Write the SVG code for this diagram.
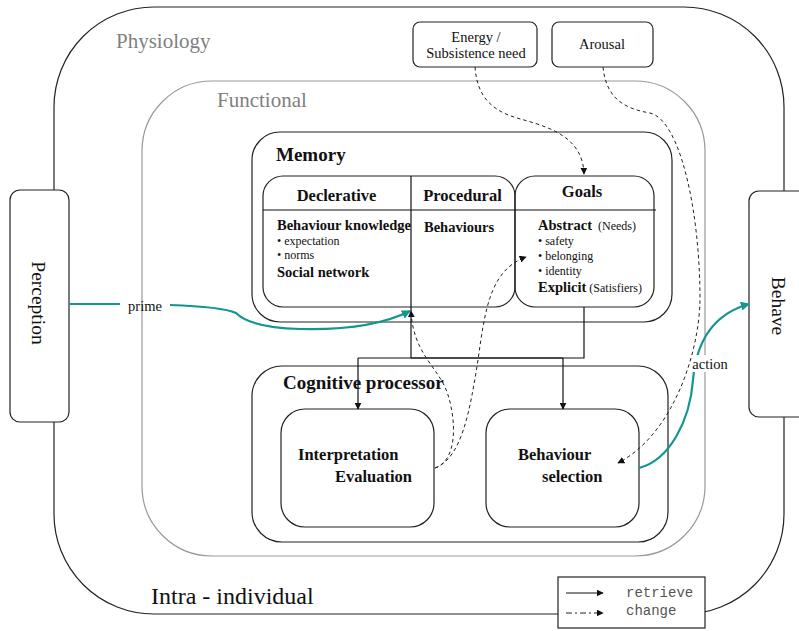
<svg xmlns="http://www.w3.org/2000/svg" width="799" height="631" viewBox="0 0 799 631">
  <style>
    .box { fill: none; stroke: #222; stroke-width: 1.2; }
    .wbox { fill: #fff; stroke: #222; stroke-width: 1.2; }
    .gray { fill: none; stroke: #999; stroke-width: 1.2; }
    .ser { font-family: "Liberation Serif", "Times New Roman", serif; fill: #111; }
    .b { font-weight: bold; }
    .lbl { font-family: "Liberation Serif", "Times New Roman", serif; fill: #808080; font-size: 21px; }
    .solid { fill: none; stroke: #111; stroke-width: 1.2; }
    .dash { fill: none; stroke: #222; stroke-width: 1; stroke-dasharray: 3.5 3; }
    .teal { fill: none; stroke: #13968f; stroke-width: 2.2; }
    .mono { font-family: "Liberation Mono", "Courier New", monospace; font-size: 14px; fill: #555; }
    .h2 { font-size: 16.5px; }
    .h3 { font-size: 14.5px; }
    .sm { font-size: 12px; }
  </style>
  <defs>
    <marker id="ah" viewBox="0 0 10 10" refX="9" refY="5" markerWidth="7" markerHeight="7" orient="auto" markerUnits="userSpaceOnUse">
      <path d="M0,0 L10,5 L0,10 z" fill="#111"/>
    </marker>
    <marker id="aht" viewBox="0 0 10 10" refX="9" refY="5" markerWidth="9" markerHeight="9" orient="auto" markerUnits="userSpaceOnUse">
      <path d="M0,0 L10,5 L0,10 z" fill="#13968f"/>
    </marker>
  </defs>

  <rect width="799" height="631" fill="#fff"/>

  <!-- nested regions -->
  <g id="physiology">
    <rect class="box" x="54" y="7" width="730" height="607" rx="100" ry="100"/>
    <text class="lbl" x="116" y="48">Physiology</text>
    <text class="ser" x="151" y="604" font-size="24">Intra - individual</text>
  </g>
  <g id="functional">
    <rect class="gray" x="142" y="81" width="563" height="475" rx="70" ry="70"/>
    <text class="lbl" x="217" y="107">Functional</text>
  </g>

  <g id="memory">
    <rect class="box" x="252" y="132" width="420" height="190" rx="28" ry="28"/>
    <text class="ser b" x="276" y="161" font-size="19">Memory</text>
  </g>

  <g id="decl-proc">
    <rect class="box" x="263" y="176" width="252" height="131" rx="20" ry="20"/>
    <text class="ser b h2" x="336.5" y="201" text-anchor="middle">Declerative</text>
    <text class="ser b h2" x="462.5" y="201" text-anchor="middle">Procedural</text>
    <text class="ser b h3" x="277" y="230">Behaviour knowledge</text>
    <text class="ser sm" x="277" y="245">• expectation</text>
    <text class="ser sm" x="277" y="259">• norms</text>
    <text class="ser b h3" x="277" y="277">Social network</text>
    <text class="ser b h3" x="424" y="232">Behaviours</text>
  </g>

  <g id="goals">
    <rect class="box" x="515" y="176" width="139" height="131" rx="20" ry="20" stroke-width="1.6"/>
    <text class="ser b h2" x="582" y="197" text-anchor="middle">Goals</text>
    <text class="ser" x="538" y="230"><tspan class="b h3">Abstract</tspan><tspan class="sm" dx="6">(Needs)</tspan></text>
    <text class="ser sm" x="538" y="245">• safety</text>
    <text class="ser sm" x="538" y="260">• belonging</text>
    <text class="ser sm" x="538" y="275">• identity</text>
    <text class="ser" x="538" y="292"><tspan class="b h3">Explicit</tspan><tspan class="sm" dx="3">(Satisfiers)</tspan></text>
  </g>

  <!-- shared divider lines of the memory compartments -->
  <g id="dividers">
    <line class="solid" x1="263" y1="210" x2="656" y2="210"/>
    <line class="solid" x1="411" y1="176" x2="411" y2="358"/>
  </g>

  <g id="cognitive">
    <rect class="box" x="252" y="366" width="416" height="176" rx="30" ry="30"/>
    <text class="ser b" x="283" y="389" font-size="19">Cognitive processor</text>
  </g>
  <g id="interpretation">
    <rect class="box" x="281" y="409" width="153" height="118" rx="24" ry="24"/>
    <text class="ser b" x="298" y="460" font-size="16.5">Interpretation</text>
    <text class="ser b" x="335" y="482" font-size="16.5">Evaluation</text>
  </g>
  <g id="selection">
    <rect class="box" x="486" y="409" width="153" height="118" rx="24" ry="24"/>
    <text class="ser b" x="518" y="460" font-size="16.5">Behaviour</text>
    <text class="ser b" x="542" y="482" font-size="16.5">selection</text>
  </g>

  <g id="energy">
    <rect class="wbox" x="413" y="22" width="124" height="45" rx="7" ry="7"/>
    <text class="ser" x="476" y="42" font-size="14.5" text-anchor="middle">Energy /</text>
    <text class="ser" x="476" y="58" font-size="14.5" text-anchor="middle">Subsistence need</text>
  </g>
  <g id="arousal">
    <rect class="wbox" x="552" y="22" width="101" height="45" rx="7" ry="7"/>
    <text class="ser" x="602" y="49" font-size="14.5" text-anchor="middle">Arousal</text>
  </g>

  <g id="perception">
    <rect class="wbox" x="10" y="190" width="59" height="232" rx="10" ry="10"/>
    <text class="ser" x="0" y="0" font-size="19.5" text-anchor="middle" transform="translate(32,303) rotate(90)">Perception</text>
  </g>
  <g id="behave">
    <rect class="wbox" x="749" y="191" width="70" height="226" rx="10" ry="10"/>
    <text class="ser" x="0" y="0" font-size="19.5" text-anchor="middle" transform="translate(772,306) rotate(90)">Behave</text>
  </g>

  <g id="legend">
    <rect class="wbox" x="558" y="577" width="147" height="51"/>
    <line class="solid" x1="566" y1="593" x2="603" y2="593" marker-end="url(#ah)"/>
    <line x1="566" y1="613" x2="603" y2="613" fill="none" stroke="#222" stroke-width="1" stroke-dasharray="6 3 2 3" marker-end="url(#ah)"/>
    <text class="mono" x="626" y="597">retrieve</text>
    <text class="mono" x="626" y="615">change</text>
  </g>

  <!-- connectors -->
  <g id="connectors">
    <!-- retrieve: memory to cognitive processor -->
    <polyline class="solid" points="584,307 584,358 411,358"/>
    <path class="solid" d="M358,358 L563,358"/>
    <line class="solid" x1="358" y1="358" x2="358" y2="409" marker-end="url(#ah)"/>
    <line class="solid" x1="563" y1="358" x2="563" y2="409" marker-end="url(#ah)"/>

    <!-- change: need and arousal -->
    <path class="dash" d="M475,67 C477,95 490,110 517,118 C545,126 583,135 584,174" marker-end="url(#ah)"/>
    <path class="dash" d="M603,67 C606,95 620,108 650,113 C680,120 700,210 700,300 C699,355 672,435 618,463" marker-end="url(#ah)"/>

    <!-- change: interpretation back into memory -->
    <path class="dash" d="M435,468 C458,460 456,420 448,395 C440,368 413,355 411,311" marker-end="url(#ah)"/>
    <path class="dash" d="M435,468 C462,458 470,410 478,360 C485,310 490,270 526,257" marker-end="url(#ah)"/>

    <!-- prime -->
    <path class="teal" d="M69,304 L120,304"/>
    <path class="teal" d="M170,305 C200,306 225,308 236,313 C245,322 265,328 300,329 C340,330 380,326 410,311" marker-end="url(#aht)"/>
    <text class="ser" x="145" y="311" font-size="14.5" text-anchor="middle">prime</text>

    <!-- action -->
    <path class="teal" d="M639,468 C670,460 690,420 693,380 C696,345 710,315 749,304" marker-end="url(#aht)"/>
    <rect x="693" y="355" width="36" height="17" fill="#fff"/>
    <text class="ser" x="710" y="369" font-size="14.5" text-anchor="middle">action</text>
  </g>
</svg>
